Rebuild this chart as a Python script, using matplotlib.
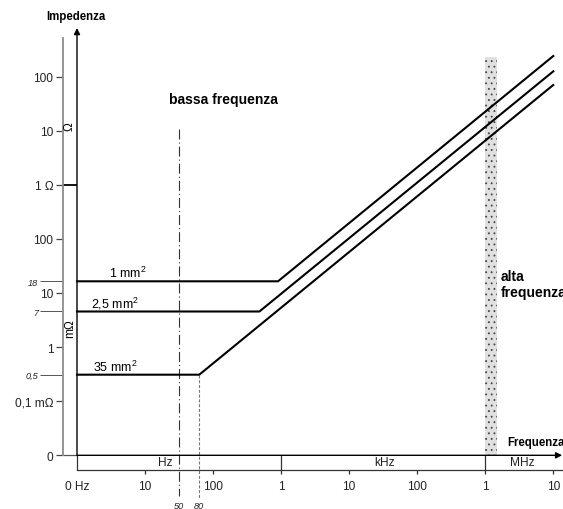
import numpy as np
import matplotlib
matplotlib.use("Agg")
import matplotlib.pyplot as plt

plt.rcParams["font.family"] = ["Liberation Sans", "DejaVu Sans"]
plt.rcParams["mathtext.fontset"] = "custom"
plt.rcParams["mathtext.rm"] = "Liberation Sans"
plt.rcParams["mathtext.it"] = "Liberation Sans:italic"
plt.rcParams["hatch.linewidth"] = 0.6

# cable cross sections: flat resistive part, then inductive rise
sections = ["1 mm$^{\\mathrm{2}}$", "2,5 mm$^{\\mathrm{2}}$", "35 mm$^{\\mathrm{2}}$"]
r_low = [18e-3, 7e-3, 0.5e-3]      # ohm
f_knee = [900, 480, 80]            # Hz
z_end = [240, 125, 70]             # ohm at f_end
f_start = 1
f_end = 1e7

x_ticks = [1, 10, 100, 1e3, 1e4, 1e5, 1e6, 1e7]
x_labels = ["0 Hz", "10", "100", "1", "10", "100", "1", "10"]
x_marks = [50, 80]
x_mark_labels = ["50", "80"]

y_ticks = [1e-5, 1e-4, 1e-3, 1e-2, 1e-1, 1, 10, 100]
y_labels = ["0", "0,1 m\u03a9", "1", "10", "100", "1 \u03a9", "10", "100"]
y_marks = [18e-3, 7e-3, 0.5e-3]
y_mark_labels = ["18", "7", "0,5"]

unit_bounds = [1, 1e3, 1e6]
hf_band = [1e6, 1.5e6]
hf_band_top = 230

# the drawing is schematic: decades are even, the marked values are not
x_anchor_log = [-3, 0, 1, np.log10(50), np.log10(80), 2, 3, 4, 5, 6, 7, 10]
x_anchor_pos = [-3, 0, 1, 1.499, 1.797, 2, 3, 4, 5, 6, 7, 10]
y_anchor_log = [-3, 0, 1, np.log10(50), 2, np.log10(700), 3, np.log10(1800),
                4, 5, 6, 7, 12]
y_anchor_pos = [-3, 0, 1, 1.49, 2, 2.658, 3, 3.216, 4, 5, 6, 7, 12]


def schematic(log_a, pos_a, ref):
    def fwd(v):
        v = np.clip(np.asarray(v, dtype=float) / ref, 1e-30, None)
        return np.interp(np.log10(v), log_a, pos_a)

    def inv(p):
        return ref * 10 ** np.interp(np.asarray(p, dtype=float), pos_a, log_a)

    return fwd, inv


W, H = 563, 510


def px(x):
    return x / W


def py(y):
    return 1 - y / H


fig = plt.figure(figsize=(W / 100, H / 100), dpi=100)
ax = fig.add_axes([px(63), py(471), px(563) - px(63), py(0) - py(471)])

xf, xi = schematic(x_anchor_log, x_anchor_pos, 1.0)
yf, yi = schematic(y_anchor_log, y_anchor_pos, 1e-5)
ax.set_xscale("function", functions=(xf, xi))
ax.set_yscale("function", functions=(yf, yi))
ax.set_xlim(xi(-0.2058), xi(7.143))
ax.set_ylim(yi(-0.2717), yi(8.434))

# spines
ax.spines["top"].set_visible(False)
ax.spines["right"].set_visible(False)
ax.spines["left"].set_color("#8c8c8c")
ax.spines["left"].set_linewidth(1.3)
ax.spines["left"].set_bounds(1e-5, 520)
ax.spines["bottom"].set_color("#333333")
ax.spines["bottom"].set_linewidth(0.9)
ax.spines["bottom"].set_bounds(1, ax.get_xlim()[1])

# y ticks
ax.set_yticks(y_ticks, y_labels)
ax.set_yticks(y_marks, y_mark_labels, minor=True)
ax.tick_params(axis="y", which="major", length=5, width=0.9, color="#444444",
               pad=2, labelsize=8.6, labelcolor="#222222")
ax.tick_params(axis="y", which="minor", length=16.5, width=0.7,
               color="#555555", pad=1.5, labelsize=6.6, labelcolor="#222222")
for lbl in ax.get_yticklabels(minor=True):
    lbl.set_style("italic")

# x ticks
ax.set_xticks(x_ticks, x_labels)
ax.set_xticks(x_marks, x_mark_labels, minor=True)
ax.tick_params(axis="x", which="major", length=3, width=0.9, color="#333333",
               pad=4, labelsize=8.6, labelcolor="#222222")
ax.tick_params(axis="x", which="minor", length=0, pad=22.5, labelsize=6.6,
               labelcolor="#222222")
for lbl in ax.get_xticklabels(minor=True):
    lbl.set_style("italic")
ax.xaxis.get_major_ticks()[0].tick1line.set_visible(False)

x_left = ax.get_xlim()[0]
y_bot = ax.get_ylim()[0]

# 0 and 1 ohm ticks reach the black axis
ax.hlines(1e-5, x_left, 1, color="#555555", lw=0.9, clip_on=False)
ax.hlines(1, x_left, 1, color="black", lw=1.3, clip_on=False)

# unit box under the frequency axis
ax.vlines(unit_bounds, y_bot, 1e-5, color="#333333", lw=0.9)
for name, xc in zip(["Hz", "kHz", "MHz"], [165, 385, 522]):
    fig.text(px(xc), py(463), name, ha="center", va="center", fontsize=8.6,
             color="#222222")

# high frequency band
ax.fill_between(hf_band, 1e-5, hf_band_top, facecolor="#e0e0e0",
                edgecolor="#444444", hatch="...", lw=0, zorder=1)

# axes arrows
ax.annotate("", xy=(1.35e7, 1e-5), xytext=(1, 1e-5),
            arrowprops=dict(arrowstyle="-|>", color="black", lw=1,
                            mutation_scale=9, shrinkA=0, shrinkB=0),
            annotation_clip=False)
ax.annotate("", xy=(1, 790), xytext=(1, 1e-5),
            arrowprops=dict(arrowstyle="-|>", color="black", lw=1,
                            mutation_scale=9, shrinkA=0, shrinkB=0),
            annotation_clip=False)

# 50 Hz and 80 Hz marks
ax.plot([50, 50], [10.8, 1.77e-6], color="#333333", lw=0.8,
        dashes=(9, 2.7, 1, 2.7), clip_on=False)
ax.plot([80, 80], [r_low[2], 1.55e-6], color="#777777", lw=0.8,
        dashes=(2.7, 1.6), clip_on=False)

# impedance curves
label_f = [5.6, 3.6, 3.7]
for name, r, fk, ze, lf in zip(sections, r_low, f_knee, z_end, label_f):
    ax.plot([f_start, fk, f_end], [r, r, ze], color="black", lw=1.5,
            zorder=3, clip_on=False)
    ax.annotate(name, xy=(lf, r), xytext=(0, 3), textcoords="offset points",
                ha="center", va="baseline", fontsize=9)

# unit labels along the vertical axis
fig.text(px(69.5), py(127), "\u03a9", rotation=90, ha="center", va="center",
         fontsize=8.6)
fig.text(px(70), py(329), "m\u03a9", rotation=90, ha="center", va="center",
         fontsize=8.6)

fig.text(px(76), py(17), "Impedenza", ha="center", va="center",
         fontsize=8.3, fontweight="bold")
fig.text(px(507), py(443), "Frequenza", ha="left", va="center",
         fontsize=8.3, fontweight="bold")
fig.text(px(223), py(100), "bassa frequenza", ha="center", va="center",
         fontsize=10, fontweight="bold")
fig.text(px(501), py(285), "alta\nfrequenza", ha="left", va="center",
         fontsize=10, fontweight="bold", linespacing=1.1)

fig.savefig("out.png", dpi=100)
